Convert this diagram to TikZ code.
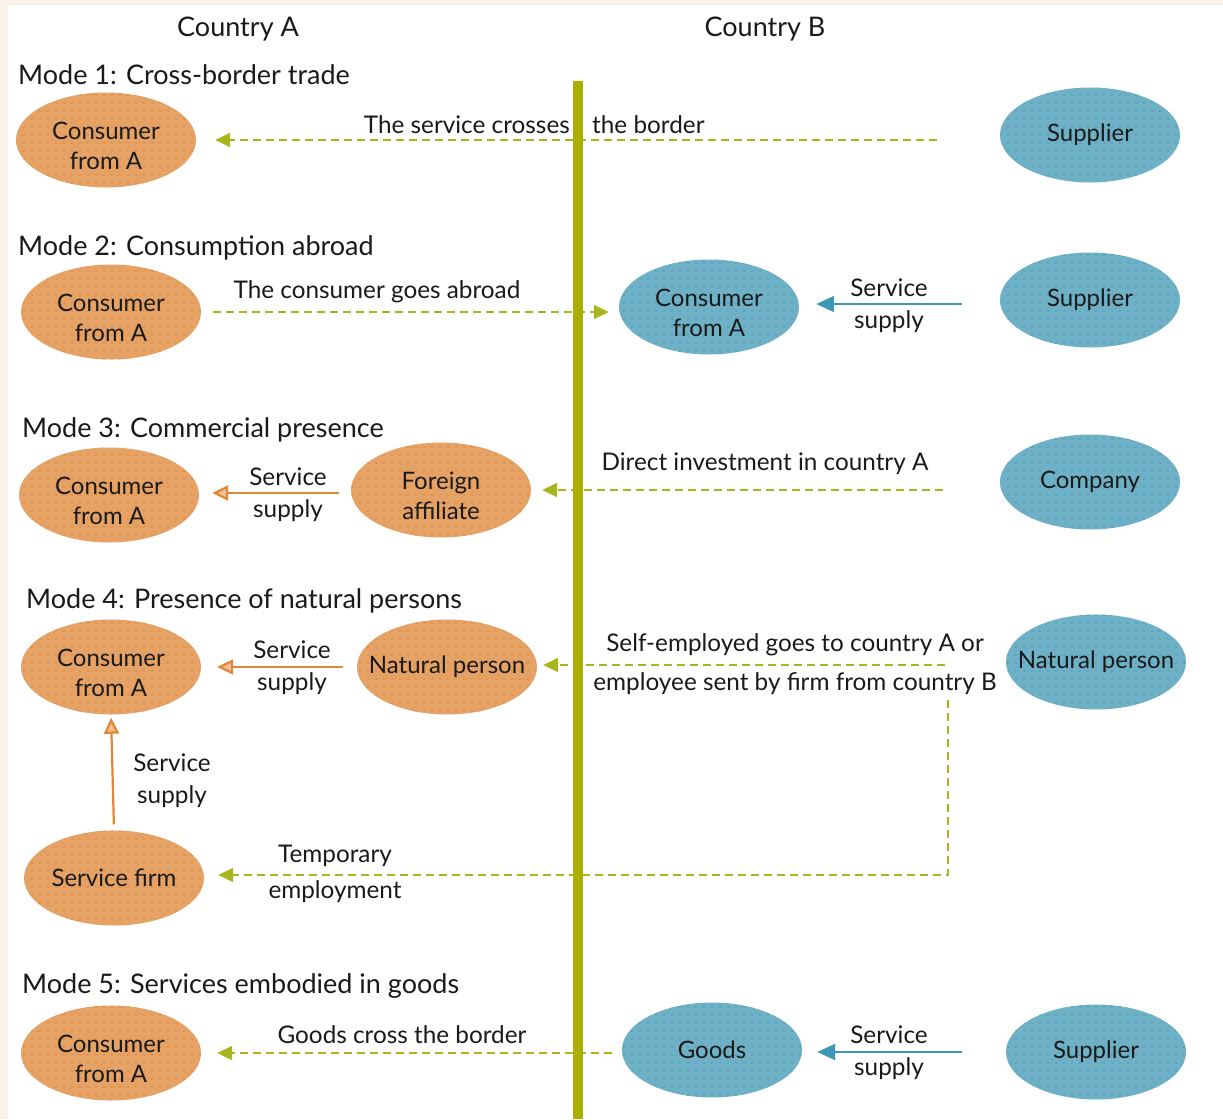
\documentclass[tikz,border=0pt]{standalone}
\usepackage{fontspec}
\setmainfont{Lato}
\usetikzlibrary{arrows.meta}
\usetikzlibrary{patterns.meta}
\usetikzlibrary{shapes.geometric}
\definecolor{cream}{HTML}{FBF1E8}
\definecolor{orfill}{HTML}{E5A264}
\definecolor{ordot}{HTML}{D6873F}
\definecolor{blfill}{HTML}{6EB1C7}
\definecolor{bldot}{HTML}{4A98B6}
\definecolor{olive}{HTML}{AAB000}
\definecolor{dashgr}{HTML}{A9B51C}
\definecolor{blline}{HTML}{3E97B5}
\definecolor{orline}{HTML}{E0883A}
\definecolor{orhead}{HTML}{F0BE90}
\definecolor{ink}{HTML}{1A1A1A}
\tikzset{
  blob/.style = {ellipse, minimum width = 180, minimum height = 95, inner sep = 0,
    align = center, text = ink, font = \fontsize{24}{30}\selectfont},
  twol/.style = {text height = 59.5pt},
  wide/.style = {inner xsep = -17pt},
  consA/.style = {blob, fill = orfill,
    postaction = {pattern = {Dots[distance = 8pt, radius = 0.8pt]}, pattern color = ordot}},
  consB/.style = {blob, fill = blfill,
    postaction = {pattern = {Dots[distance = 8pt, radius = 0.8pt]}, pattern color = bldot}},
  lbl/.style = {align = center, text = ink, inner sep = 0, font = \fontsize{24.3}{32}\selectfont},
  head/.style = {anchor = base west, text = ink, inner sep = 0, font = \fontsize{27}{30}\selectfont},
  flow/.style = {dashgr, line width = 1.8, dash pattern = on 8pt off 5pt,
    -{Triangle[length = 15pt, width = 14pt]}},
  supB/.style = {blline, line width = 2, -{Triangle[length = 18pt, width = 16pt]}},
  supA/.style = {orline, line width = 2.2, -{Triangle[open, fill = orhead, length = 16pt, width = 15pt]}}
}
\begin{document}
\begin{tikzpicture}[x = 1pt, y = -1pt]
  \fill [cream] (0, 0) rectangle (1223, 1119);
  \fill [white] (8, 5) rectangle (1223, 1119);

  \node [head, anchor = base] (ctya) at (238, 36) {Country A};
  \node [head, anchor = base] (ctyb) at (765, 36) {Country B};

  \node [head] (m1) at (18, 84) {Mode 1: Cross-border trade};
  \node [consA, twol] (a1) at (106, 140) {Consumer\\from A};
  \node [consB] (s1) at (1090, 135) {Supplier};
  \draw [flow, shorten <= 63pt, shorten >= 19pt] (s1.west |- a1.east) -- (a1.east);
  \node [lbl, anchor = base east] (l1a) at (570, 133) {The service crosses};
  \node [lbl, anchor = base west] (l1b) at (592, 133) {the border};

  \node [head] (m2) at (18, 255) {Mode 2: Consumption abroad};
  \node [consA, twol] (a2) at (111, 312) {Consumer\\from A};
  \node [consB, twol] (c2) at (709, 307) {Consumer\\from A};
  \node [consB] (s2) at (1090, 300) {Supplier};
  \draw [flow, shorten <= 12pt, shorten >= 10pt] (a2.east) -- (a2.east -| c2.west);
  \node [lbl] (l2) at (377, 292) {The consumer goes abroad};
  \draw [supB, shorten <= 38pt, shorten >= 17pt] ([yshift = -4] s2.west) -- ([yshift = -4] s2.west -| c2.east);
  \node [lbl] (l2s) at (889, 306) {Service\\supply};

  \node [head] (m3) at (22, 437) {Mode 3: Commercial presence};
  \node [consA, twol] (a3) at (109, 495) {Consumer\\from A};
  \node [consA, twol] (f3) at (441, 490) {Foreign\\affiliate};
  \node [consB] (co3) at (1090, 482) {Company};
  \draw [supA, shorten <= 12pt, shorten >= 13pt] ([yshift = -3] f3.west) -- ([yshift = -3] f3.west -| a3.east);
  \node [lbl] (l3s) at (288, 495) {Service\\supply};
  \draw [flow, shorten <= 57pt, shorten >= 11pt] (co3.west |- f3.east) -- (f3.east);
  \node [lbl] (l3) at (765, 464) {Direct investment in country A};

  \node [head] (m4) at (26, 608) {Mode 4: Presence of natural persons};
  \node [consA, twol] (a4) at (111, 667) {Consumer\\from A};
  \node [consA, wide] (n4) at (447, 667) {Natural person};
  \node [consB, wide] (np4) at (1096, 662) {Natural person};
  \node [consA] (sf4) at (114, 878) {Service firm};
  \draw [supA, shorten <= 14pt, shorten >= 16pt] (n4.west) -- (n4.west -| a4.east);
  \node [lbl] (l4s) at (292, 668) {Service\\supply};
  \draw [flow, shorten <= 61pt, shorten >= 6pt] ([yshift = 2] np4.west |- n4.east) -- ([yshift = 2] n4.east);
  \node [lbl, font = \fontsize{24.3}{39}\selectfont] (l4) at (795, 664) {Self-employed goes to country A or\\employee sent by firm from country B};
  \coordinate (t4) at (948, 700);
  \draw [flow, shorten >= 14pt] (t4) |- ([yshift = 3] sf4.east);
  \node [lbl, font = \fontsize{24.3}{36}\selectfont] (l4t) at (335, 874) {Temporary\\employment};
  \draw [supA, shorten <= 6pt, shorten >= 3pt] (sf4.north) -- (a4.south);
  \node [lbl] (l4v) at (172, 781) {Service\\supply};

  \node [head] (m5) at (22, 993) {Mode 5: Services embodied in goods};
  \node [consA, twol] (a5) at (111, 1053) {Consumer\\from A};
  \node [consB] (g5) at (712, 1050) {Goods};
  \node [consB] (s5) at (1096, 1052) {Supplier};
  \draw [flow, shorten <= 10pt, shorten >= 16pt] (g5.west |- a5.east) -- (a5.east);
  \node [lbl] (l5) at (402, 1035) {Goods cross the border};
  \draw [supB, shorten <= 44pt, shorten >= 15pt] (s5.west) -- (s5.west -| g5.east);
  \node [lbl] (l5s) at (889, 1053) {Service\\supply};

  \fill [olive] (573, 81) rectangle (583, 1119);
\end{tikzpicture}
\end{document}
